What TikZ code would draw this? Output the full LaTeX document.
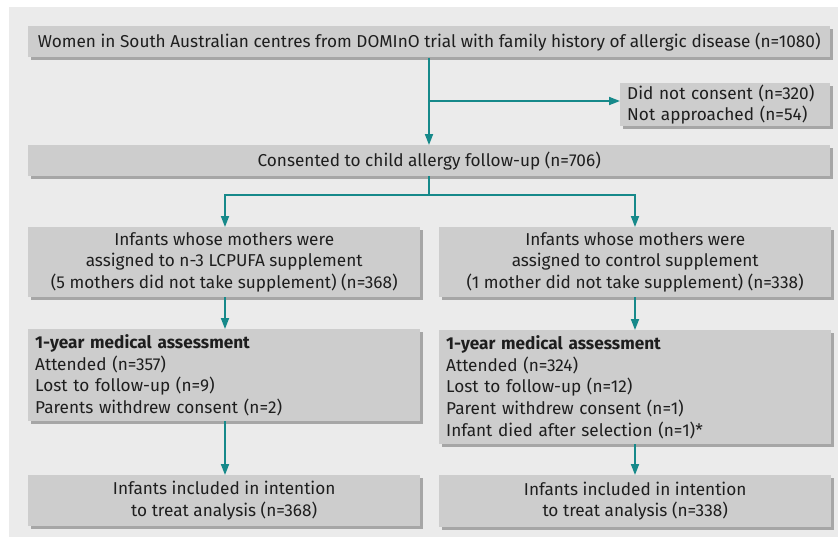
\documentclass[tikz,border=0pt]{standalone}
\usepackage{fontspec}
\setmainfont{Fira Sans}
\usetikzlibrary{arrows.meta,shadows}
\definecolor{panel}{HTML}{EBEBEB}
\definecolor{boxfill}{HTML}{CDCDCD}
\definecolor{shade}{HTML}{A6A6A6}
\definecolor{teal}{HTML}{16898A}
\definecolor{ink}{HTML}{1E1E1E}
\tikzset{
  fbox/.style={draw=none, fill=boxfill, anchor=north west, inner xsep=7pt, inner ysep=0pt,
    text=ink, font=\fontsize{17.2}{21.7}\selectfont,
    general shadow={fill=shade, shadow xshift=2.5pt, shadow yshift=-2.5pt}},
  conn/.style={draw=teal, line width=1.8pt},
  arr/.style={conn, -{Triangle[width=8pt,length=11pt]}}
}
\begin{document}
\begin{tikzpicture}[x=1pt,y=-1pt]
\useasboundingbox (0,0) rectangle (838,539);
\fill[white] (0,0) rectangle (838,539);
\fill[panel] (9,7) rectangle (838,537);
% boxes
\node[fbox, minimum width=802pt, minimum height=31pt, align=center] (b1) at (28,26)
  {Women in South Australian centres from DOMInO trial with family history of allergic disease (n=1080)};
\node[fbox, minimum width=210pt, minimum height=43pt, text width=196pt, align=left] (ex) at (620,83)
  {Did not consent (n=320)\\Not approached (n=54)};
\node[fbox, minimum width=802pt, minimum height=31pt, align=center] (b2) at (28,145)
  {Consented to child allergy follow-up (n=706)};
\node[fbox, minimum width=392pt, minimum height=70pt, align=center] (l3) at (28,227)
  {Infants whose mothers were\\assigned to n-3 LCPUFA supplement\\(5 mothers did not take supplement) (n=368)};
\node[fbox, minimum width=392pt, minimum height=70pt, align=center] (r3) at (439,227)
  {Infants whose mothers were\\assigned to control supplement\\(1 mother did not take supplement) (n=338)};
\node[fbox, minimum width=392pt, minimum height=92pt, text width=378pt, align=left] (l4) at (28,329)
  {\textbf{1-year medical assessment}\\Attended (n=357)\\Lost to follow-up (n=9)\\Parents withdrew consent (n=2)};
\node[fbox, minimum width=392pt, minimum height=114pt, text width=378pt, align=left] (r4) at (439,330)
  {\textbf{1-year medical assessment}\\Attended (n=324)\\Lost to follow-up (n=12)\\Parent withdrew consent (n=1)\\Infant died after selection (n=1)*};
\node[fbox, minimum width=392pt, minimum height=51pt, align=center] (l5) at (28,475)
  {Infants included in intention\\to treat analysis (n=368)};
\node[fbox, minimum width=392pt, minimum height=52pt, align=center] (r5) at (439,475)
  {Infants included in intention\\to treat analysis (n=338)};
% connectors
\coordinate (top) at (429,57.5);
\coordinate (side) at (429,101);
\draw[arr] (top) -- (429,145) coordinate (b2top);
\draw[arr] (side) -- (side -| ex.west);
\coordinate (split) at (429,195);
\draw[conn] (429,176) -- (split);
\draw[arr] (split) -| (l3.north -| 225,0);
\draw[arr] (split) -| (r3.north -| 635,0);
\draw[arr] (l3.south -| 225,0) -- (l4.north -| 225,0);
\draw[arr] (l4.south -| 225,0) -- (l5.north -| 225,0);
\draw[arr] (r3.south -| 635,0) -- (r4.north -| 635,0);
\draw[arr] (r4.south -| 635,0) -- (r5.north -| 635,0);
\end{tikzpicture}
\end{document}
